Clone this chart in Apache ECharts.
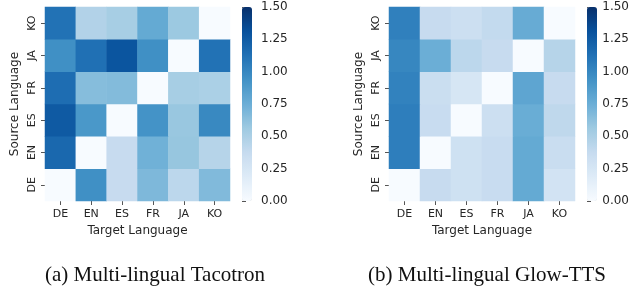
<!DOCTYPE html>
<html>
<head>
<meta charset="utf-8">
<script src="https://cdn.jsdelivr.net/npm/echarts@6/dist/echarts.min.js"></script>
<style>
  html, body { margin: 0; padding: 0; background: #fff; }
  #chart { width: 632px; height: 298px; }
</style>
</head>
<body>
<div id="chart"></div>
<script>
// languages, bottom to top on the y axis, left to right on the x axis
const langs = ['DE', 'EN', 'ES', 'FR', 'JA', 'KO'];

// rows = source language (DE..KO), columns = target language (DE..KO)
const tacotron = [
    [0.00, 0.95, 0.37, 0.68, 0.42, 0.67],
    [1.18, 0.00, 0.37, 0.73, 0.59, 0.45],
    [1.26, 0.90, 0.00, 0.93, 0.58, 0.99],
    [1.15, 0.65, 0.66, 0.00, 0.52, 0.50],
    [0.95, 1.13, 1.29, 0.95, 0.00, 1.12],
    [1.12, 0.47, 0.52, 0.78, 0.57, 0.00]
];
const glowtts = [
    [0.00, 0.37, 0.31, 0.36, 0.78, 0.28],
    [1.05, 0.00, 0.31, 0.36, 0.78, 0.35],
    [1.05, 0.36, 0.00, 0.33, 0.76, 0.41],
    [1.03, 0.34, 0.25, 0.00, 0.81, 0.37],
    [1.00, 0.75, 0.42, 0.37, 0.00, 0.45],
    [1.04, 0.37, 0.33, 0.39, 0.77, 0.00]
];
const captions = ['(a) Multi-lingual Tacotron', '(b) Multi-lingual Glow-TTS'];

// matplotlib Blues
const blues = ['#f7fbff', '#deebf7', '#c6dbef', '#9ecae1', '#6baed6',
               '#4292c6', '#2171b5', '#08519c', '#08306b'];

function toCells(m){
    let out = [];
    m.forEach((row, y) => {
        row.forEach((v, x) => out.push([x, y, v]));
    });
    return out;
}

const txt = '#262626';
const tickCol = '#555';
const font = 'DejaVu Sans';

function catAxis(idx, name, isY){
    return {
        type: 'category',
        gridIndex: idx,
        data: langs,
        name: name,
        nameLocation: 'middle',
        nameGap: isY ? 24 : 24,
        nameTextStyle: {color: txt, fontSize: 12, fontFamily: font},
        axisLine: {show: false},
        axisTick: {show: true, length: 4, alignWithLabel: true, lineStyle: {color: tickCol}},
        axisLabel: {color: txt, fontSize: 11, fontFamily: font, margin: isY ? 7 : 8, rotate: isY ? 90 : 0},
        splitLine: {show: false}
    };
}

function barAxes(idx){
    return {
        x: {type: 'value', gridIndex: idx, show: false, min: 0, max: 1},
        y: {
            type: 'value', gridIndex: idx, position: 'right',
            min: 0, max: 1.5, interval: 0.25,
            axisLine: {show: false},
            axisTick: {show: true, length: 4, lineStyle: {color: tickCol}},
            axisLabel: {color: txt, fontSize: 12, fontFamily: font, margin: 9,
                formatter: v => v.toFixed(2)},
            splitLine: {show: false}
        }
    };
}

const b0 = barAxes(2), b1 = barAxes(3);
const capStyle = {fontFamily: 'Liberation Serif', fontSize: 21, fontWeight: 'normal', color: '#111'};

let myChart = echarts.init(document.getElementById('chart'), null, {renderer: 'canvas'});
myChart.setOption({
    animation: false,
    backgroundColor: '#fff',
    title: [
        {text: captions[0], left: 150, top: 260, textAlign: 'center', textStyle: capStyle},
        {text: captions[1], left: 482, top: 260, textAlign: 'center', textStyle: capStyle}
    ],
    grid: [
        {left: 45, top: 7, width: 185, height: 194},
        {left: 389, top: 7, width: 186, height: 194},
        {left: 242, top: 7, width: 10, height: 194},
        {left: 587, top: 7, width: 10, height: 194}
    ],
    xAxis: [catAxis(0, 'Target Language', false), catAxis(1, 'Target Language', false), b0.x, b1.x],
    yAxis: [catAxis(0, 'Source Language', true), catAxis(1, 'Source Language', true), b0.y, b1.y],
    visualMap: [
        {type: 'continuous', seriesIndex: 0, min: 0, max: 1.5, calculable: false,
         left: 242, top: 7, itemWidth: 10, itemHeight: 194, padding: 0, text: null,
         showLabel: false, inRange: {color: blues}, hoverLink: false},
        {type: 'continuous', seriesIndex: 1, min: 0, max: 1.5, calculable: false,
         left: 587, top: 7, itemWidth: 10, itemHeight: 194, padding: 0, text: null,
         showLabel: false, inRange: {color: blues}, hoverLink: false}
    ],
    series: [
        {type: 'heatmap', xAxisIndex: 0, yAxisIndex: 0, data: toCells(tacotron),
         itemStyle: {borderWidth: 0}, emphasis: {disabled: true}},
        {type: 'heatmap', xAxisIndex: 1, yAxisIndex: 1, data: toCells(glowtts),
         itemStyle: {borderWidth: 0}, emphasis: {disabled: true}}
    ]
});
</script>
</body>
</html>
